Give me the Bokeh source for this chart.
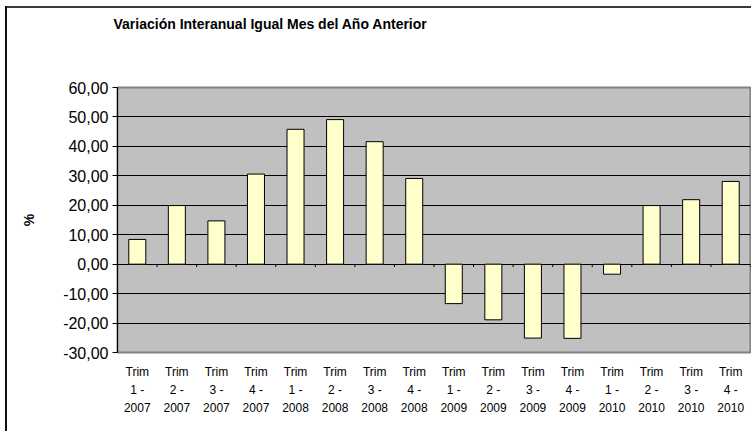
from bokeh.plotting import figure
from bokeh.models import FixedTicker, Range1d, Title
from bokeh.embed import file_html
from bokeh.resources import INLINE

# ---- data ----
quarters = ["1", "2", "3", "4", "1", "2", "3", "4", "1", "2", "3", "4", "1", "2", "3", "4"]
years = ["2007"] * 4 + ["2008"] * 4 + ["2009"] * 4 + ["2010"] * 4
values = [8.4, 19.9, 14.7, 30.6, 45.8, 49.1, 41.6, 29.1,
          -13.4, -18.9, -25.1, -25.2, -3.4, 19.9, 21.9, 28.1]
y_ticks = [-30, -20, -10, 0, 10, 20, 30, 40, 50, 60]
title_text = "Variación Interanual Igual Mes del Año Anterior"

n = len(values)
x = [i + 0.5 for i in range(n)]
x_labels = [f"Trim\n{q} -\n{y}" for q, y in zip(quarters, years)]
y_labels = {t: f"{t:.2f}".replace(".", ",") for t in y_ticks}
boundaries = list(range(1, n + 1))

FONT = "Liberation Sans"

p = figure(width=751, height=431, output_backend="svg", toolbar_location=None,
           x_range=Range1d(0, n), y_range=Range1d(min(y_ticks), max(y_ticks)),
           min_border_left=117, min_border_right=1, min_border_top=87,
           min_border_bottom=79)
p.title = None

# blank spacer title nearest the plot area, then the real title above it
spacer = Title(text=" ", standoff=22, text_font=FONT, text_font_size="14px",
               text_color="white")
p.add_layout(spacer, "above")

title = Title(text=title_text, align="left", vertical_align="top", offset=-4,
              standoff=28, text_font=FONT, text_font_size="14px",
              text_font_style="bold", text_color="black")
p.add_layout(title, "above")

p.background_fill_color = "#C0C0C0"
p.border_fill_color = None
p.outline_line_color = "#808080"
p.outline_line_width = 2

# outer chart-area border (left and top edges), drawn behind the transparent canvas
p.styles = {
    "background-color": "white",
    "background-image": "linear-gradient(#111111, #111111), linear-gradient(#3a3a3a, #3a3a3a)",
    "background-size": "2px 100%, 100% 2px",
    "background-position": "5px 6px, 5px 6px",
    "background-repeat": "no-repeat",
}

# bars
p.vbar(x=x, top=values, bottom=0, width=0.43, fill_color="#FFFFCC",
       line_color="black", line_width=1)

# small tick marks on the zero line at category boundaries
p.segment(x0=boundaries, y0=[0] * n, x1=boundaries, y1=[-1] * n,
          line_color="black", line_width=1)

# y axis
p.yaxis.ticker = FixedTicker(ticks=y_ticks)
p.yaxis.major_label_overrides = y_labels
p.yaxis.major_tick_out = 5
p.yaxis.major_tick_in = 0
p.yaxis.minor_tick_line_color = None
p.yaxis.axis_line_color = "black"
p.yaxis.major_tick_line_color = "black"
p.yaxis.major_label_standoff = 4
p.yaxis.major_label_text_font = FONT
p.yaxis.major_label_text_font_size = "16px"
p.yaxis.major_label_text_color = "black"
p.yaxis.axis_label = "%"
p.yaxis.axis_label_text_font = FONT
p.yaxis.axis_label_text_font_size = "14px"
p.yaxis.axis_label_text_font_style = "bold"
p.yaxis.axis_label_text_color = "black"
p.yaxis.axis_label_standoff = 23

# grid
p.ygrid.ticker = FixedTicker(ticks=y_ticks)
p.ygrid.grid_line_color = "black"
p.ygrid.grid_line_width = 1
p.xgrid.visible = False

# x axis (bottom)
xa = p.below[0]
xa.ticker = FixedTicker(ticks=x)
xa.major_label_overrides = {xv: lab for xv, lab in zip(x, x_labels)}
xa.axis_line_color = None
xa.major_tick_line_color = None
xa.minor_tick_line_color = None
xa.major_label_standoff = 6
xa.major_label_text_font = FONT
xa.major_label_text_font_size = "12px"
xa.major_label_text_line_height = 1.3
xa.major_label_text_color = "black"

open("out.html", "w").write(file_html(p, INLINE))
